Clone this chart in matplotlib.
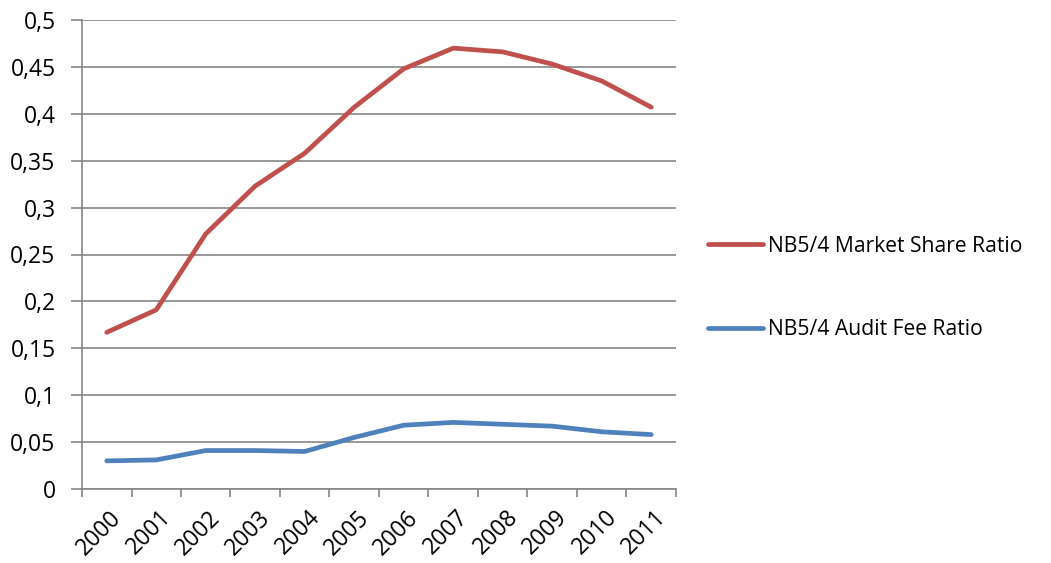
import matplotlib
matplotlib.use("Agg")
import matplotlib.pyplot as plt
import matplotlib.transforms as mtransforms
from matplotlib.ticker import FixedLocator, FuncFormatter

years = ["2000", "2001", "2002", "2003", "2004", "2005",
         "2006", "2007", "2008", "2009", "2010", "2011"]
market_share_ratio = [0.167, 0.191, 0.272, 0.323, 0.358, 0.407,
                      0.448, 0.470, 0.466, 0.453, 0.435, 0.407]
audit_fee_ratio = [0.030, 0.031, 0.041, 0.041, 0.040, 0.055,
                   0.068, 0.071, 0.069, 0.067, 0.061, 0.058]
series_names = ["NB5/4 Market Share Ratio", "NB5/4 Audit Fee Ratio"]
y_ticks = [0, 0.05, 0.1, 0.15, 0.2, 0.25, 0.3, 0.35, 0.4, 0.45, 0.5]

plt.rcParams["font.family"] = ["Open Sans", "DejaVu Sans"]
grid_color = "#868686"
fs_legend = 15.2
fs_ticks = 16.5

fig = plt.figure(figsize=(10.51, 5.63), dpi=100)
ax = fig.add_axes([82 / 1051, 1 - 489 / 563, (676 - 82) / 1051, (489 - 20) / 563])

x = list(range(len(years)))
ax.plot(x, market_share_ratio, color="#C0504D", lw=3.4,
        solid_capstyle="round", solid_joinstyle="round", label=series_names[0], zorder=3)
ax.plot(x, audit_fee_ratio, color="#4F81BD", lw=3.4,
        solid_capstyle="round", solid_joinstyle="round", label=series_names[1], zorder=3)

ax.set_xlim(-0.5, len(years) - 0.5)
ax.set_ylim(0, 0.5)

ax.yaxis.set_major_locator(FixedLocator(y_ticks))
ax.yaxis.set_major_formatter(FuncFormatter(lambda v, p: f"{v:g}".replace(".", ",")))
ax.grid(axis="y", color=grid_color, lw=1.2, zorder=1)

ax.xaxis.set_major_locator(FixedLocator([i - 0.5 for i in range(len(years) + 1)]))
ax.xaxis.set_major_formatter(FuncFormatter(lambda v, p: ""))
ax.xaxis.set_minor_locator(FixedLocator(x))
ax.set_xticklabels(years, minor=True, rotation=45, ha="right", va="top",
                   rotation_mode="anchor")

ax.tick_params(axis="x", which="major", length=6, width=1.2, color=grid_color, direction="out")
ax.tick_params(axis="x", which="minor", length=0, pad=12, labelsize=fs_ticks)
ax.tick_params(axis="y", length=8, width=1.2, color=grid_color, direction="out",
               labelsize=fs_ticks, pad=11)

# nudge the rotated year labels slightly to the right
shift = mtransforms.ScaledTranslation(3 / 100, 0, fig.dpi_scale_trans)
for lbl in ax.get_xticklabels(minor=True):
    lbl.set_transform(lbl.get_transform() + shift)

for side in ("top", "right"):
    ax.spines[side].set_visible(False)
for side in ("left", "bottom"):
    ax.spines[side].set_color(grid_color)
    ax.spines[side].set_linewidth(1.2)

ax.legend(loc="center left", bbox_to_anchor=(700 / 1051, 1 - 288 / 563),
          bbox_transform=fig.transFigure, frameon=False, fontsize=fs_legend,
          handlelength=2.6, handletextpad=0.2, labelspacing=2.95, borderaxespad=0)

fig.savefig("out.png", dpi=100)
